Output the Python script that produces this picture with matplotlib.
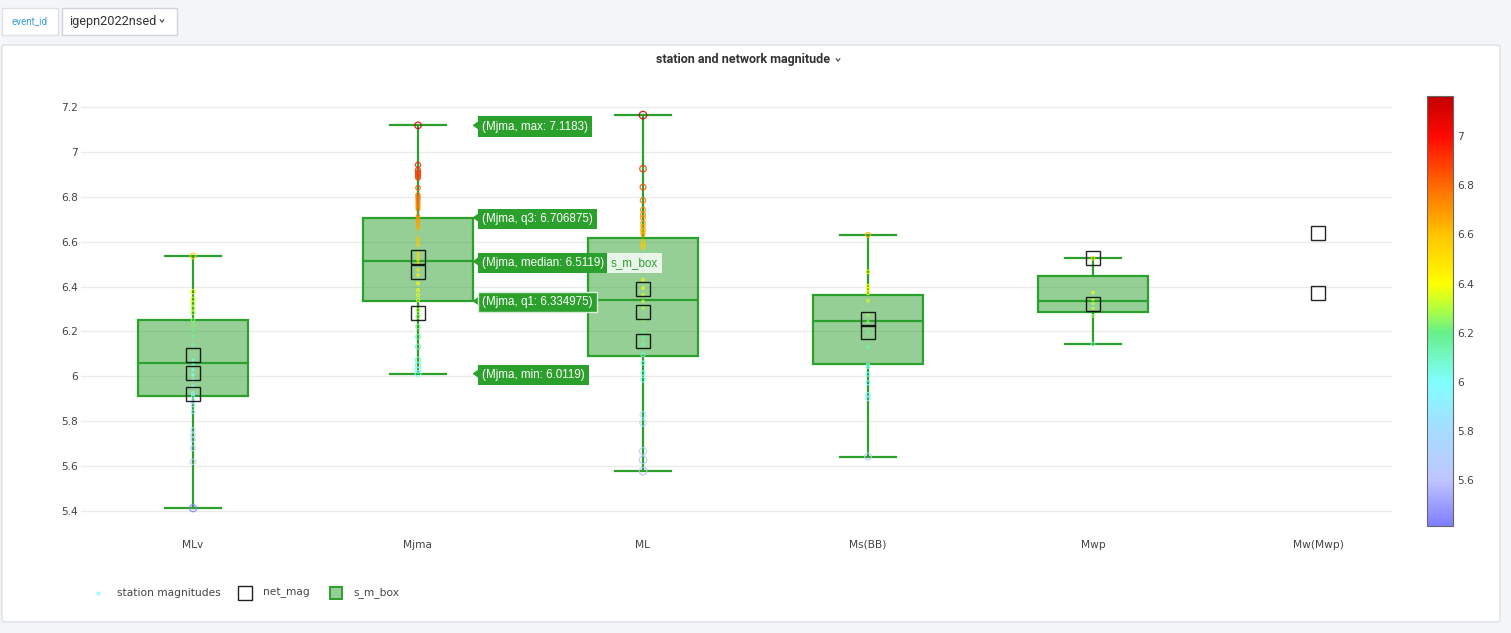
import numpy as np
import matplotlib
matplotlib.use("Agg")
import matplotlib.pyplot as plt
from matplotlib.colors import LinearSegmentedColormap, Normalize
from matplotlib.lines import Line2D
from matplotlib.patches import FancyBboxPatch, Polygon, Rectangle
import matplotlib.transforms as mtransforms
import matplotlib.cm as cm

# ---------------- data ----------------
categories = ["MLv", "Mjma", "ML", "Ms(BB)", "Mwp", "Mw(Mwp)"]

box_cats = ["MLv", "Mjma", "ML", "Ms(BB)", "Mwp"]
box_min = [5.412, 6.0119, 5.577, 5.642, 6.144]
box_q1 = [5.912, 6.334975, 6.092, 6.055, 6.285]
box_median = [6.059, 6.5119, 6.340, 6.246, 6.334]
box_q3 = [6.251, 6.706875, 6.618, 6.361, 6.448]
box_max = [6.536, 7.1183, 7.164, 6.630, 6.526]

sta_MLv = [6.536, 6.377, 6.343, 6.325, 6.303, 6.283, 6.251, 6.229, 6.206, 6.176,
           6.139, 6.073, 6.050, 6.028, 6.006, 5.983, 5.954, 5.924, 5.909, 5.887,
           5.872, 5.842, 5.761, 5.738, 5.719, 5.679, 5.619, 5.412]
sta_Mjma = [7.1183, 6.942, 6.919, 6.909, 6.900, 6.892, 6.885, 6.840, 6.808, 6.797,
            6.786, 6.774, 6.763, 6.753, 6.744, 6.714, 6.704, 6.693, 6.682, 6.670,
            6.659, 6.615, 6.600, 6.585, 6.548, 6.533, 6.518, 6.503, 6.474, 6.451,
            6.414, 6.384, 6.362, 6.340, 6.295, 6.266, 6.221, 6.176, 6.132, 6.073,
            6.050, 6.028, 6.0119]
sta_ML = [7.164, 6.925, 6.843, 6.784, 6.742, 6.720, 6.705, 6.683, 6.668, 6.653,
          6.643, 6.631, 6.601, 6.586, 6.575, 6.475, 6.430, 6.393, 6.364, 6.334,
          6.304, 6.252, 6.200, 6.171, 6.141, 6.096, 6.059, 6.015, 5.985, 5.829,
          5.792, 5.666, 5.628, 5.577]
sta_MsBB = [6.630, 6.466, 6.402, 6.388, 6.370, 6.337, 6.273, 6.243, 6.199, 6.132,
            6.050, 6.043, 6.009, 5.971, 5.917, 5.902, 5.642]
sta_Mwp = [6.526, 6.373, 6.343, 6.325, 6.303, 6.269, 6.144]

net_MLv = [6.093, 6.015, 5.921]
net_Mjma = [6.530, 6.466, 6.283]
net_ML = [6.389, 6.288, 6.159]
net_MsBB = [6.255, 6.199]
net_Mwp = [6.526, 6.322]
net_MwMwp = [6.640, 6.373]

station_sets = [sta_MLv, sta_Mjma, sta_ML, sta_MsBB, sta_Mwp]
net_sets = [net_MLv, net_Mjma, net_ML, net_MsBB, net_Mwp, net_MwMwp]

yticks = [5.4, 5.6, 5.8, 6.0, 6.2, 6.4, 6.6, 6.8, 7.0, 7.2]
cbar_ticks = [5.6, 5.8, 6.0, 6.2, 6.4, 6.6, 6.8, 7.0]

tip_names = ["max", "q3", "median", "q1", "min"]
tip_values = ["7.1183", "6.706875", "6.5119", "6.334975", "6.0119"]

# ---------------- style ----------------
W, H = 1511, 633
def fx(px): return px / W
def fy(py): return 1 - py / H

GREEN = "#2ca02c"
TXT = "#444444"

all_sta = np.concatenate([np.array(s) for s in station_sets])
vmin, vmax = all_sta.min(), all_sta.max()
stops = [(5.412, "#7f7fff"), (5.6, "#c0c6ff"), (5.8, "#a6dcff"), (6.0, "#80ffff"),
         (6.2, "#66f08a"), (6.3, "#b4ff3c"), (6.4, "#ffff00"), (6.6, "#ffc400"),
         (6.8, "#ff6a00"), (7.0, "#ff0a00"), (7.164, "#c40000")]
cmap = LinearSegmentedColormap.from_list(
    "mag", [((v - vmin) / (vmax - vmin), c) for v, c in stops])
norm = Normalize(vmin, vmax)

fig = plt.figure(figsize=(W / 100, H / 100), dpi=100, facecolor="#f4f5f7")

# panel
fig.add_artist(FancyBboxPatch((fx(2), fy(622)), fx(1498), (622 - 45) / H,
                              boxstyle="round,pad=0,rounding_size=0.003",
                              transform=fig.transFigure, fc="white", ec="#dde1e6", lw=1,
                              zorder=-10))
# top controls
fig.add_artist(Rectangle((fx(2), fy(35)), fx(56), 27 / H, transform=fig.transFigure,
                         fc="white", ec="#dde1e6", lw=1, zorder=-10))
fig.add_artist(Rectangle((fx(62), fy(35)), fx(115), 27 / H, transform=fig.transFigure,
                         fc="white", ec="#cfd4da", lw=1, zorder=-10))
fig.text(fx(30), fy(21.5), "event_id", color="#3a9ad9", fontsize=7, family="Roboto",
         ha="center", va="center")
fig.text(fx(69), fy(21.5), "igepn2022nsed", color="#333333", fontsize=9.2, family="Roboto",
         ha="left", va="center")
def chevron(x, y, w=3.5, h=2.5, color="#555555"):
    fig.add_artist(Line2D([fx(x - w / 2), fx(x), fx(x + w / 2)],
                          [fy(y - h / 2), fy(y + h / 2), fy(y - h / 2)],
                          transform=fig.transFigure, color=color, lw=0.9))
chevron(162, 21)
fig.text(fx(743), fy(59.5), "station and network magnitude", color="#333333",
         fontsize=9, family="Roboto", fontweight="bold", ha="center", va="center")
chevron(838, 60)

# main axes
ax = fig.add_axes([fx(81), fy(522), (1392 - 81) / W, (522 - 93) / H])
ax.set_facecolor("white")
ax.set_xlim((81 - 193) / 225, (1392 - 193) / 225)
ax.set_ylim(7.2 - (522 - 107) / 224.4, 7.2 - (93 - 107) / 224.4)
for s in ax.spines.values():
    s.set_visible(False)
ax.set_yticks(yticks)
ax.set_yticklabels([f"{v:g}" for v in yticks])
ax.set_xticks(range(len(categories)))
ax.set_xticklabels(categories)
ax.tick_params(axis="both", length=0, labelsize=7.7, labelcolor=TXT)
ax.tick_params(axis="y", pad=2)
ax.tick_params(axis="x", pad=18.5)
for lab in ax.get_xticklabels():
    lab.set_verticalalignment("baseline")
ax.yaxis.grid(True, color="#ebebeb", lw=1)
ax.set_axisbelow(True)

stats = []
for i, c in enumerate(box_cats):
    stats.append(dict(label=c, whislo=box_min[i], q1=box_q1[i], med=box_median[i],
                      q3=box_q3[i], whishi=box_max[i], fliers=[]))
ax.bxp(stats, positions=range(len(box_cats)), widths=0.493, capwidths=0.245,
       patch_artist=True, showfliers=False, manage_ticks=False,
       boxprops=dict(facecolor=(44 / 255, 160 / 255, 44 / 255, 0.5), edgecolor=GREEN, lw=1.6),
       whiskerprops=dict(color=GREEN, lw=1.6), capprops=dict(color=GREEN, lw=1.6),
       medianprops=dict(color=GREEN, lw=1.6))

# station magnitudes
for i, vals in enumerate(station_sets):
    v = np.array(vals)
    d = np.clip(1.8 + 8.0 * np.abs(v - box_median[i]), 2.0, 7.5) * 0.72
    ax.scatter(np.full(len(v), i), v, s=d ** 2, facecolors="none",
               edgecolors=cmap(norm(v)), linewidths=0.9, alpha=0.85, zorder=4)

# network magnitudes
for i, vals in enumerate(net_sets):
    ax.plot(np.full(len(vals), i), vals, ls="none", marker="s", markersize=9.6,
            mfc="none", mec="black", mew=1.0, alpha=0.85, zorder=5)

# tooltips for Mjma box
bt = mtransforms.blended_transform_factory(fig.transFigure, ax.transData)
off = mtransforms.offset_copy(bt, fig=fig, x=0, y=-1.2, units="dots")
tip_y = [box_max[1], box_q3[1], box_median[1], box_q1[1], box_min[1]]
for name, val, yv in zip(tip_names, tip_values, tip_y):
    dy = 5 / 224.4
    fig.add_artist(Polygon([(fx(472.5), yv), (fx(479.5), yv + dy), (fx(479.5), yv - dy)],
                           closed=True, transform=bt, fc=GREEN, ec="none", zorder=10))
    ec = "#d8ecd8" if name == "q1" else "none"
    fig.text(fx(482.5), yv, f"(Mjma, {name}: {val})", transform=off, color="white",
             fontsize=8.4, family="Liberation Sans", ha="left", va="center", zorder=11,
             bbox=dict(boxstyle="square,pad=0.35", fc=GREEN, ec=ec, lw=1))
fig.text(fx(611), box_median[1], "s_m_box", transform=off, color=GREEN, fontsize=8.4,
         family="Liberation Sans", ha="left", va="center", zorder=11,
         bbox=dict(boxstyle="square,pad=0.35", fc="#eaf5ea", ec="none"))

# colorbar
cax = fig.add_axes([fx(1427), fy(526), 26 / W, 430 / H])
sm = cm.ScalarMappable(norm=norm, cmap=cmap)
cb = fig.colorbar(sm, cax=cax)
cb.set_ticks(cbar_ticks)
cb.set_ticklabels([f"{v:g}" for v in cbar_ticks])
cb.outline.set_edgecolor("#666666")
cb.outline.set_linewidth(0.8)
cax.tick_params(length=0, labelsize=7.7, labelcolor=TXT, pad=3)

# legend
fig.add_artist(Line2D([fx(98)], [fy(593)], transform=fig.transFigure, ls="none",
                      marker="o", markersize=2, mfc="#a0ffff", mec="#a0ffff"))
fig.text(fx(117), fy(593), "station magnitudes", fontsize=7.7, color=TXT,
         ha="left", va="center")
fig.add_artist(Line2D([fx(244.5)], [fy(593)], transform=fig.transFigure, ls="none",
                      marker="s", markersize=9.5, mfc="white", mec="#222222", mew=1.0))
fig.text(fx(263), fy(593), "net_mag", fontsize=7.7, color=TXT, ha="left", va="center")
fig.add_artist(Line2D([fx(335.5)], [fy(593)], transform=fig.transFigure, ls="none",
                      marker="s", markersize=8.5, mfc="#96cf96", mec=GREEN, mew=1.4))
fig.text(fx(353), fy(593), "s_m_box", fontsize=7.7, color=TXT, ha="left", va="center")

fig.savefig("out.png", dpi=100, facecolor=fig.get_facecolor())
